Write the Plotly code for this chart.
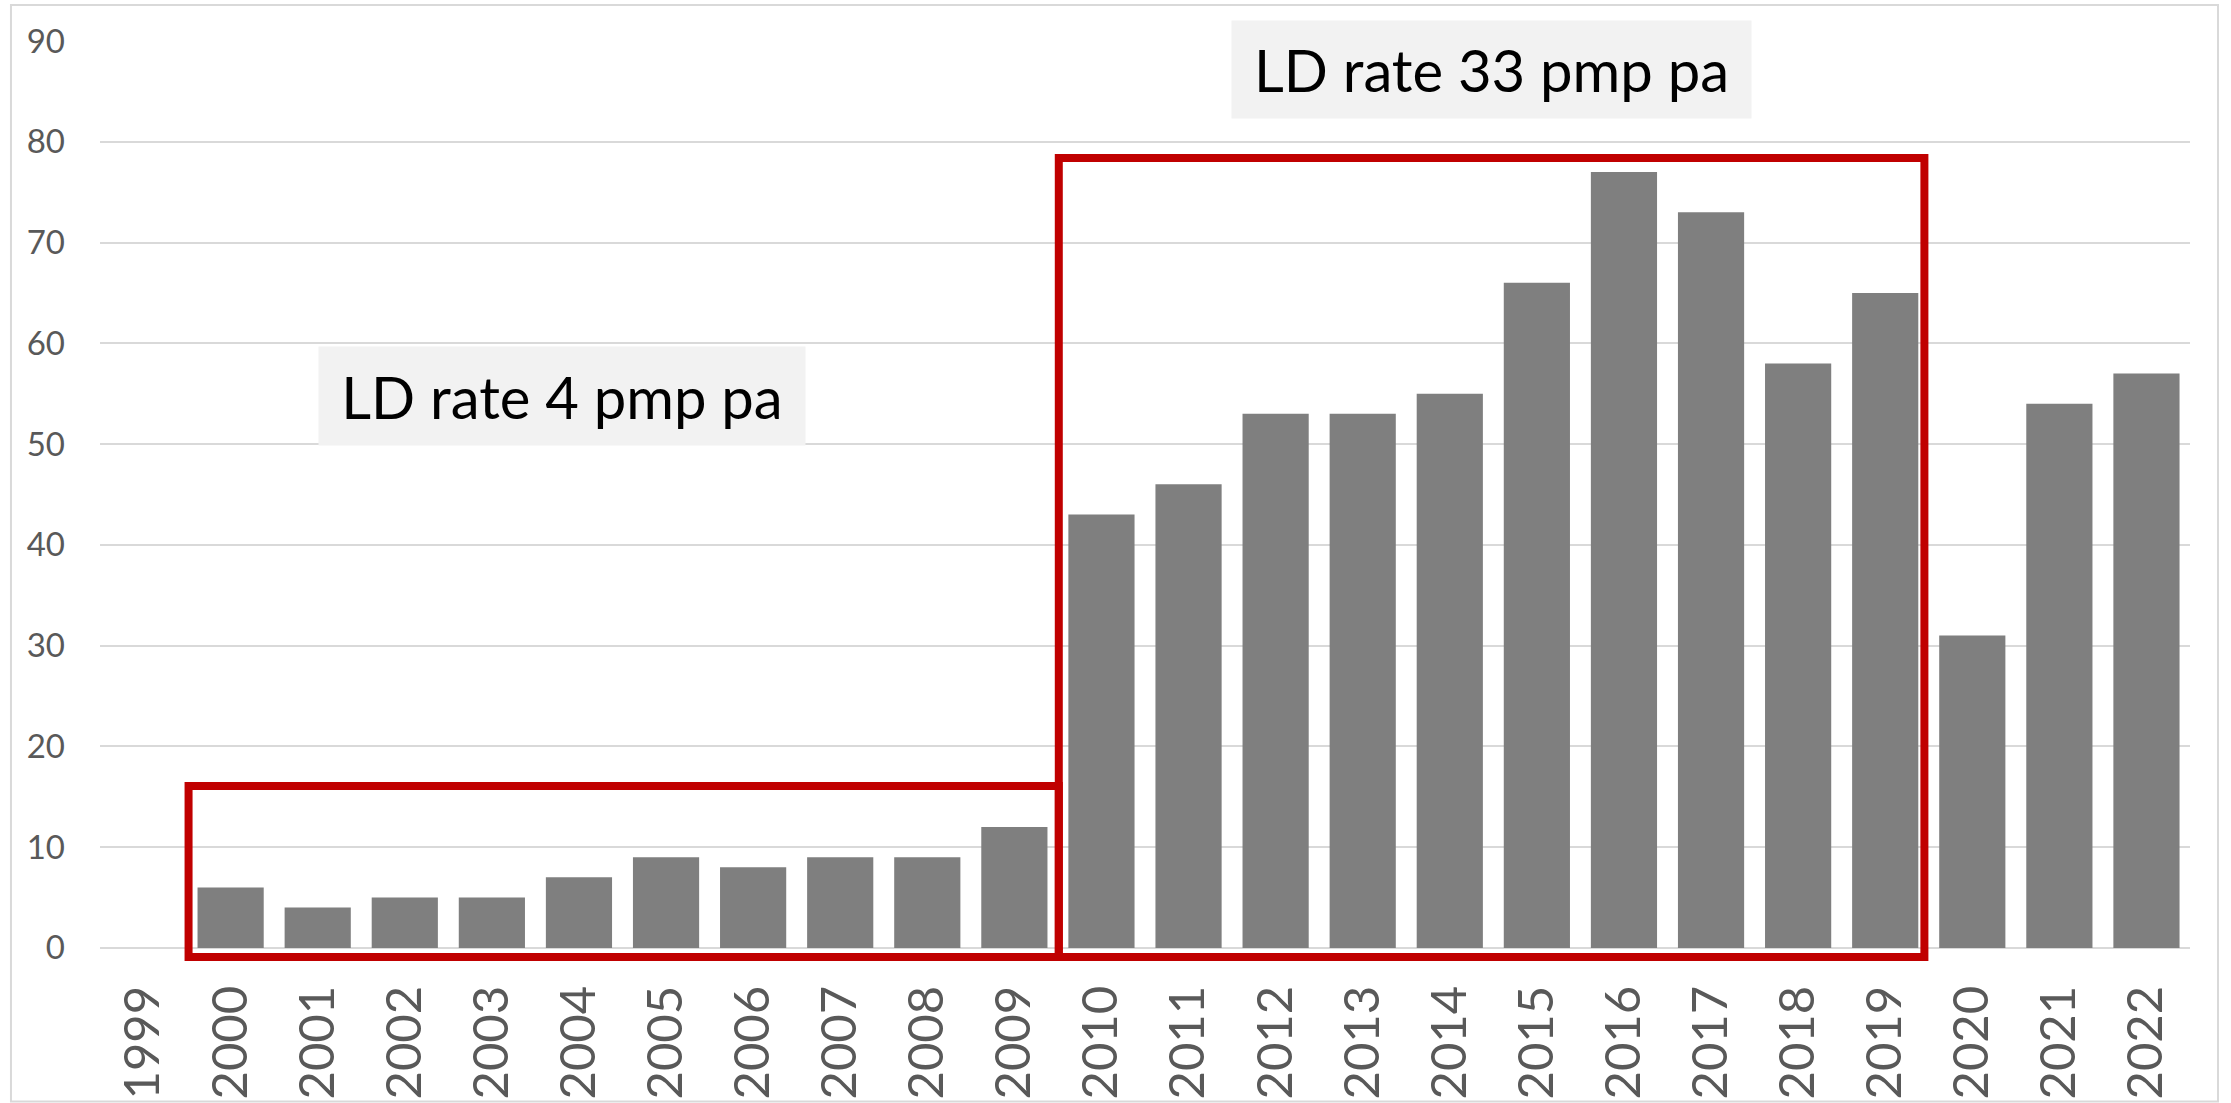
import plotly.graph_objects as go

years = [str(y) for y in range(1999, 2023)]
values = [None, 6, 4, 5, 5, 7, 9, 8, 9, 9, 12,
          43, 46, 53, 53, 55, 66, 77, 73, 58, 65,
          31, 54, 57]
y_ticks = [0, 10, 20, 30, 40, 50, 60, 70, 80, 90]
label_low = "LD rate 4 pmp pa"
label_high = "LD rate 33 pmp pa"

RED = "#C00000"
GRID = "#d9d9d9"
TXT = "#595959"

fig = go.Figure()
fig.add_trace(go.Bar(
    x=years, y=values,
    marker=dict(color="#7f7f7f", line=dict(width=0)),
    width=0.76,
    showlegend=False,
    hoverinfo="x+y",
))

# red highlight rectangles
fig.add_shape(type="rect", xref="x", yref="y",
              x0=0.517, x1=10.51, y0=-0.9, y1=16.07,
              line=dict(color=RED, width=8), fillcolor="rgba(0,0,0,0)", layer="above")
fig.add_shape(type="rect", xref="x", yref="y",
              x0=10.51, x1=20.45, y0=-0.9, y1=78.4,
              line=dict(color=RED, width=8), fillcolor="rgba(0,0,0,0)", layer="above")

# outer chart frame
fig.add_shape(type="rect", xref="paper", yref="paper",
              x0=-0.0426, x1=1.0134, y0=-0.149, y1=1.039,
              line=dict(color=GRID, width=2), fillcolor="rgba(0,0,0,0)", layer="below")

fig.add_annotation(x=4.81, y=54.8, xref="x", yref="y", text=label_low,
                   showarrow=False, bgcolor="#f2f2f2", borderpad=0,
                   width=486, height=98,
                   font=dict(family="Lato", size=58, color="#000000"))
fig.add_annotation(x=15.48, y=87.15, xref="x", yref="y", text=label_high,
                   showarrow=False, bgcolor="#f2f2f2", borderpad=0,
                   width=519, height=97,
                   font=dict(family="Lato", size=58, color="#000000"))

fig.update_layout(
    width=2231, height=1103,
    margin=dict(l=100, r=41, t=41, b=139, autoexpand=False),
    paper_bgcolor="white", plot_bgcolor="white",
    bargap=0.24,
    font=dict(family="Lato", color=TXT),
)
fig.update_xaxes(
    type="category", categoryorder="array", categoryarray=years,
    range=[-0.5, 23.5], automargin=False,
    tickangle=-90,
    tickfont=dict(family="Lato", size=49, color=TXT),
    showgrid=False, showline=False, zeroline=False,
    ticks="", ticklabelstandoff=11,
)
fig.update_yaxes(
    range=[-1.6, 90], automargin=False,
    tickvals=y_ticks,
    tickfont=dict(family="Lato", size=33, color=TXT),
    showgrid=True, gridcolor=GRID, gridwidth=2,
    zeroline=False, showline=False, ticks="",
    ticklabelstandoff=34,
)

fig.write_html(
    "out.html",
    config={"displayModeBar": False},
    post_script="document.body.style.margin='0px';document.body.style.overflow='hidden';",
)
